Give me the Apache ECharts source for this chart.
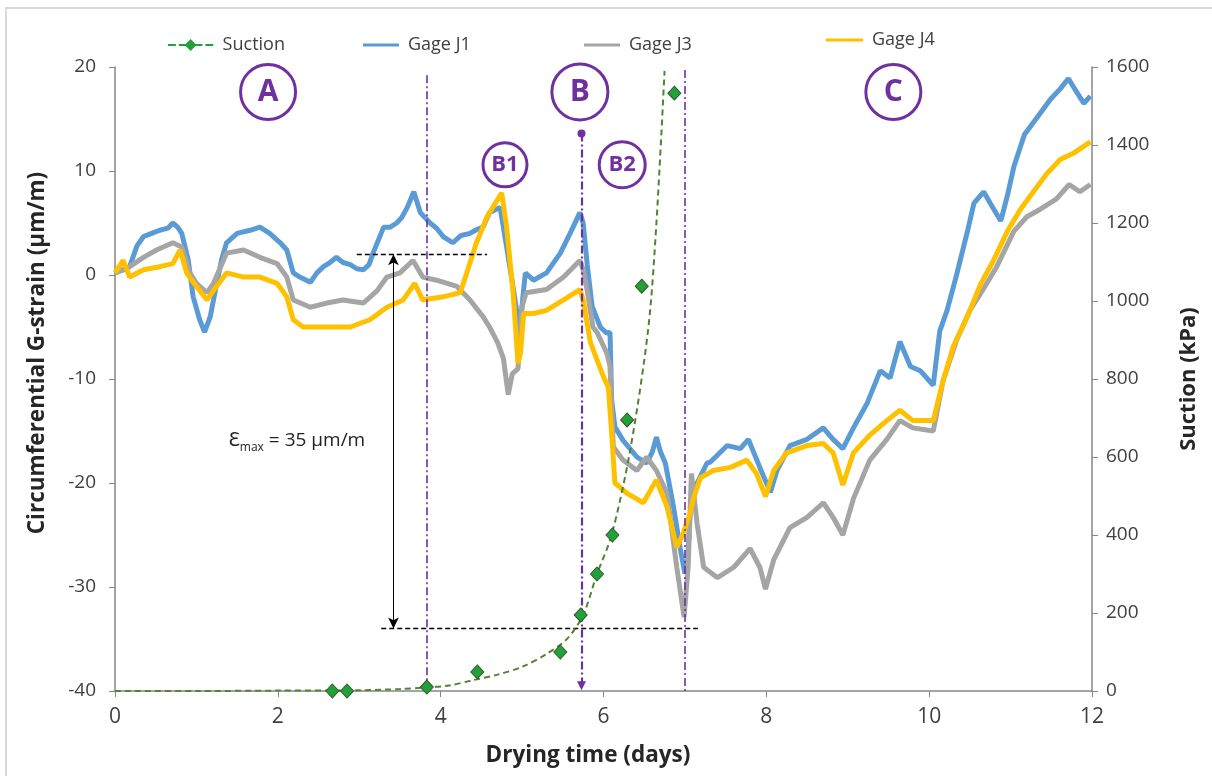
<!DOCTYPE html>
<html><head><meta charset="utf-8">
<script src="https://cdn.jsdelivr.net/npm/echarts@6/dist/echarts.min.js"></script>
<style>html,body{margin:0;padding:0;background:#fff}#c{width:1212px;height:776px}</style>
</head><body><div id="c"></div>
<script>
// ---- data ----
const gageJ1 = [[0,0.2],[0.1,0.5],[0.18,0.8],[0.27,2.8],[0.35,3.7],[0.45,4.0],[0.55,4.3],[0.65,4.5],[0.71,5.0],[0.77,4.6],[0.82,4.0],[0.9,1.4],[0.96,-2.1],[1.04,-4.3],[1.1,-5.5],[1.17,-4.0],[1.25,-0.8],[1.31,1.5],[1.37,3.1],[1.5,4.0],[1.66,4.3],[1.78,4.6],[1.9,4.0],[2.03,3.1],[2.11,2.4],[2.19,0.2],[2.27,-0.2],[2.4,-0.7],[2.48,0.2],[2.56,0.8],[2.64,1.2],[2.72,1.7],[2.8,1.2],[2.89,1.0],[2.97,0.6],[3.05,0.5],[3.12,1.0],[3.17,2.1],[3.3,4.6],[3.38,4.6],[3.46,5.0],[3.52,5.5],[3.59,6.5],[3.67,8.0],[3.75,6.0],[3.87,5.0],[3.95,4.5],[4.03,3.7],[4.15,3.1],[4.25,3.8],[4.36,4.0],[4.45,4.4],[4.52,4.6],[4.6,6.0],[4.73,6.5],[4.81,2.7],[4.9,-1.7],[4.97,-5.3],[5.04,0.2],[5.14,-0.5],[5.3,0.2],[5.47,2.1],[5.59,4.0],[5.71,6.0],[5.75,5.0],[5.8,1.0],[5.86,-3.0],[5.96,-5.0],[6.04,-5.6],[6.08,-5.5],[6.1,-12.0],[6.14,-14.6],[6.24,-15.9],[6.41,-17.5],[6.53,-18.1],[6.6,-17.0],[6.65,-15.6],[6.7,-17.0],[6.76,-18.1],[6.86,-22.3],[6.94,-26.2],[7.0,-28.7],[7.03,-28.1],[7.06,-23.3],[7.1,-21.0],[7.15,-20.0],[7.27,-18.1],[7.31,-18.0],[7.52,-16.4],[7.68,-16.7],[7.78,-15.8],[7.92,-18.5],[8.05,-20.9],[8.13,-18.8],[8.29,-16.4],[8.5,-15.8],[8.7,-14.7],[8.82,-15.8],[8.94,-16.7],[9.07,-14.7],[9.24,-12.3],[9.4,-9.2],[9.52,-9.9],[9.64,-6.4],[9.77,-8.8],[9.89,-9.2],[10.05,-10.6],[10.13,-5.4],[10.22,-3.4],[10.34,0.1],[10.47,4.2],[10.55,6.9],[10.67,8.0],[10.75,6.9],[10.88,5.2],[10.96,7.6],[11.04,10.4],[11.17,13.5],[11.33,15.2],[11.49,16.9],[11.61,17.9],[11.71,18.9],[11.81,17.6],[11.9,16.5],[11.98,17.2]];
const gageJ3 = [[0,0.2],[0.18,0.8],[0.35,1.7],[0.51,2.4],[0.71,3.1],[0.82,2.7],[0.92,0.2],[1.0,-0.8],[1.13,-1.7],[1.21,-0.8],[1.37,2.1],[1.58,2.4],[1.78,1.7],[1.99,1.1],[2.11,-0.2],[2.19,-2.4],[2.4,-3.1],[2.6,-2.7],[2.8,-2.4],[3.05,-2.7],[3.22,-1.5],[3.34,-0.2],[3.5,0.2],[3.66,1.4],[3.78,-0.2],[3.95,-0.5],[4.2,-1.1],[4.36,-2.4],[4.52,-4.0],[4.6,-5.0],[4.7,-6.5],[4.77,-8.0],[4.83,-11.5],[4.88,-9.5],[4.95,-9.0],[5.0,-3.0],[5.05,-1.7],[5.3,-1.4],[5.51,-0.2],[5.71,1.4],[5.75,0.5],[5.8,-1.5],[5.87,-5.0],[5.92,-5.5],[6.04,-7.5],[6.08,-8.8],[6.12,-16.5],[6.24,-17.8],[6.41,-18.8],[6.53,-17.5],[6.65,-18.8],[6.78,-21.0],[6.9,-28.1],[6.99,-32.9],[7.04,-28.0],[7.08,-19.1],[7.15,-23.9],[7.23,-28.1],[7.4,-29.1],[7.6,-28.1],[7.8,-26.3],[7.92,-28.1],[7.99,-30.2],[8.09,-27.4],[8.29,-24.3],[8.5,-23.3],[8.7,-21.9],[8.82,-23.3],[8.94,-25.0],[9.07,-21.5],[9.27,-17.8],[9.48,-15.8],[9.64,-14.0],[9.8,-14.7],[10.05,-15.0],[10.17,-10.2],[10.34,-6.2],[10.5,-3.4],[10.67,-1.3],[10.83,0.8],[11.04,4.2],[11.2,5.6],[11.36,6.3],[11.56,7.3],[11.72,8.7],[11.85,8.0],[11.98,8.7]];
const gageJ4 = [[0,0.2],[0.1,1.4],[0.18,-0.2],[0.35,0.5],[0.55,0.8],[0.71,1.1],[0.8,2.4],[0.88,0.2],[1.0,-1.1],[1.13,-2.4],[1.21,-1.5],[1.37,0.2],[1.58,-0.2],[1.78,-0.2],[1.99,-0.8],[2.11,-2.1],[2.19,-4.3],[2.31,-5.0],[2.6,-5.0],[2.89,-5.0],[3.13,-4.3],[3.34,-3.1],[3.54,-2.4],[3.68,-0.8],[3.78,-2.4],[4.03,-2.1],[4.24,-1.7],[4.32,0.2],[4.44,3.1],[4.57,5.6],[4.75,7.9],[4.81,4.6],[4.89,-1.7],[4.95,-8.5],[4.98,-7.5],[5.02,-3.7],[5.14,-3.7],[5.3,-3.4],[5.51,-2.4],[5.71,-1.4],[5.75,-2.4],[5.84,-6.5],[6.0,-9.8],[6.06,-10.8],[6.1,-15.2],[6.14,-20.0],[6.29,-21.0],[6.49,-21.9],[6.65,-19.7],[6.78,-22.3],[6.9,-26.2],[6.98,-24.8],[7.06,-23.0],[7.1,-21.6],[7.19,-19.5],[7.35,-18.8],[7.56,-18.5],[7.76,-17.8],[7.88,-19.1],[7.99,-21.3],[8.09,-18.8],[8.25,-17.1],[8.5,-16.4],[8.7,-16.2],[8.82,-17.1],[8.94,-20.2],[9.07,-17.1],[9.27,-15.4],[9.48,-14.0],[9.64,-13.0],[9.8,-14.0],[10.05,-14.0],[10.17,-10.2],[10.3,-6.8],[10.47,-4.0],[10.63,-0.9],[10.79,1.4],[10.96,4.2],[11.12,6.3],[11.28,8.0],[11.44,9.7],[11.61,11.1],[11.77,11.7],[11.98,12.8]];
const suctionDays = [2.67, 2.85, 3.83, 4.45, 5.47, 5.72, 5.92, 6.11, 6.29, 6.47, 6.87];
const suctionKPa  = [0, 0, 10, 49, 100, 195, 300, 400, 695, 1038, 1533];
const fitDays = [0, 1, 2, 3, 3.5, 3.8, 4.1, 4.4, 4.7, 5.0, 5.3, 5.55, 5.75, 5.92, 6.1, 6.33, 6.55, 6.65, 6.75];
const fitKPa  = [0, 0, 1, 2, 5, 9, 14, 28, 42, 62, 95, 133, 195, 300, 400, 620, 930, 1200, 1590];
const xTicks = [0, 2, 4, 6, 8, 10, 12];
const strainTicks = [-40, -30, -20, -10, 0, 10, 20];
const suctionTicks = [0, 200, 400, 600, 800, 1000, 1200, 1400, 1600];
// annotations (data units)
const phaseLines = [[3.83, 19.2], [7.0, 19.7]];
const bLine = [5.73, 13.6];
const strainRange = { top: 2, bottom: -34, arrowDay: 3.42, topFrom: 2.97, topTo: 4.57, botFrom: 3.27, botTo: 7.16 };
const circles = [
  { t: 'A', d: 1.88, v: 17.6, s: 55, f: 30 },
  { t: 'B', d: 5.71, v: 17.6, s: 56, f: 30 },
  { t: 'C', d: 9.56, v: 17.6, s: 55, f: 30 },
  { t: 'B1', d: 4.79, v: 10.6, s: 44, f: 22 },
  { t: 'B2', d: 6.23, v: 10.6, s: 46, f: 22 }
];

const PURPLE = '#7030A0';
const AX = '#868686';
const TXT = '#404040';
const SANS = "'Open Sans', 'Noto Sans', sans-serif";
const NARROW = "'Liberation Sans Narrow', 'Open Sans', sans-serif";

const chart = echarts.init(document.getElementById('c'), null, { renderer: 'canvas' });
const dashDot = [8, 3, 2, 3];
const legendText = { fontSize: 18, color: TXT, fontFamily: SANS, padding: [0, 0, 0, 4] };

const option = {
  animation: false,
  backgroundColor: '#fff',
  graphic: [{ type: 'rect', shape: { x: 6, y: 8, width: 1260, height: 820 }, style: { fill: 'none', stroke: '#d9d9d9', lineWidth: 2 }, silent: true }],
  grid: { left: 115, right: 120, top: 67, bottom: 85, containLabel: false },
  legend: [
    { data: ['Suction'], left: 163, top: 31, itemWidth: 46, itemHeight: 12,
      icon: 'path://M0,5.2h8v1.8h-8z M11,5.2h7v1.8h-7z M23,0 L29,6.1 L23,12.2 L17,6.1 Z M28,5.2h7v1.8h-7z M38,5.2h8v1.8h-8z',
      itemStyle: { borderWidth: 0 },
      textStyle: legendText, selectedMode: false },
    { data: ['Gage J1'], left: 358, top: 31, itemWidth: 36, itemHeight: 3, icon: 'rect',
      textStyle: legendText, selectedMode: false },
    { data: ['Gage J3'], left: 579, top: 31, itemWidth: 36, itemHeight: 3, icon: 'rect',
      textStyle: legendText, selectedMode: false },
    { data: ['Gage J4'], left: 821, top: 26, itemWidth: 37, itemHeight: 3, icon: 'rect',
      textStyle: legendText, selectedMode: false }
  ],
  xAxis: {
    type: 'value', min: xTicks[0], max: xTicks[xTicks.length - 1], interval: 2,
    name: 'Drying time (days)', nameLocation: 'middle', nameGap: 53,
    nameTextStyle: { fontSize: 22.5, fontWeight: 'bold', color: '#262626', fontFamily: SANS, padding: [0, 31, 0, 0] },
    axisLine: { show: true, onZero: false, lineStyle: { color: AX, width: 1.5 } },
    axisTick: { show: true, length: 6, lineStyle: { color: AX } },
    axisLabel: { fontSize: 21, color: TXT, fontFamily: NARROW, margin: 16 },
    splitLine: { show: false }
  },
  yAxis: [
    { type: 'value', min: strainTicks[0], max: strainTicks[strainTicks.length - 1], interval: 10,
      name: 'Circumferential G-strain (µm/m)', nameLocation: 'middle', nameGap: 66, nameRotate: 90,
      nameTextStyle: { fontSize: 22.5, fontWeight: 'bold', color: '#262626', fontFamily: SANS, padding: [0, 0, 0, 52] },
      axisLine: { show: true, onZero: false, lineStyle: { color: AX, width: 1.5 } },
      axisTick: { show: true, length: 6, lineStyle: { color: AX } },
      axisLabel: { fontSize: 19, color: TXT, fontFamily: SANS, margin: 19 },
      splitLine: { show: false } },
    { type: 'value', min: suctionTicks[0], max: suctionTicks[suctionTicks.length - 1], interval: 200,
      name: 'Suction (kPa)', nameLocation: 'middle', nameGap: 86, nameRotate: 90,
      nameTextStyle: { fontSize: 22, fontWeight: 'bold', color: '#262626', fontFamily: SANS },
      axisLine: { show: true, onZero: false, lineStyle: { color: AX, width: 1.5 } },
      axisTick: { show: true, length: 6, lineStyle: { color: AX } },
      axisLabel: { fontSize: 19, color: TXT, fontFamily: SANS, margin: 14, formatter: v => String(v) },
      splitLine: { show: false } }
  ],
  series: [
    { name: 'Gage J1', type: 'line', data: gageJ1, showSymbol: false, symbol: 'none', z: 2,
      lineStyle: { color: '#5B9BD5', width: 5 }, itemStyle: { color: '#5B9BD5' } },
    { name: 'Gage J3', type: 'line', data: gageJ3, showSymbol: false, symbol: 'none', z: 3,
      lineStyle: { color: '#A5A5A5', width: 5 }, itemStyle: { color: '#A5A5A5' } },
    { name: 'Gage J4', type: 'line', data: gageJ4, showSymbol: false, symbol: 'none', z: 4,
      lineStyle: { color: '#FFC000', width: 5 }, itemStyle: { color: '#FFC000' } },
    { name: 'annotations', type: 'line', data: [], z: 6, silent: true,
      markLine: {
        silent: true, symbol: 'none', label: { show: false }, animation: false,
        emphasis: { disabled: true },
        data: [
          ...phaseLines.map(p => [
            { coord: [p[0], p[1]], symbol: 'none', lineStyle: { color: PURPLE, width: 1.6, type: dashDot } },
            { coord: [p[0], strainTicks[0]], symbol: 'none' }]),
          [ { coord: [bLine[0], bLine[1]], symbol: 'circle', symbolSize: 8, lineStyle: { color: PURPLE, width: 2.2, type: dashDot }, itemStyle: { color: PURPLE } },
            { coord: [bLine[0], strainTicks[0] + 0.5], symbol: 'triangle', symbolSize: [9, 9], itemStyle: { color: PURPLE } } ],
          [ { coord: [strainRange.topFrom, strainRange.top], symbol: 'none', lineStyle: { color: '#000', width: 1.3, type: [5, 3] } },
            { coord: [strainRange.topTo, strainRange.top], symbol: 'none' } ],
          [ { coord: [strainRange.botFrom, strainRange.bottom], symbol: 'none', lineStyle: { color: '#000', width: 1.3, type: [5, 3] } },
            { coord: [strainRange.botTo, strainRange.bottom], symbol: 'none' } ],
          [ { coord: [strainRange.arrowDay, strainRange.top], symbol: 'arrow', symbolSize: [8, 11], lineStyle: { color: '#000', width: 1, type: 'solid' }, itemStyle: { color: '#000' } },
            { coord: [strainRange.arrowDay, strainRange.bottom], symbol: 'arrow', symbolSize: [8, 11], itemStyle: { color: '#000' } } ]
        ]
      },
      markPoint: {
        silent: true, animation: false,
        data: [
          ...circles.map(c => ({ name: c.t, coord: [c.d, c.v], symbol: 'circle', symbolSize: c.s,
            itemStyle: { color: '#fff', borderColor: PURPLE, borderWidth: 3 },
            label: { show: true, position: 'inside', formatter: c.t, color: PURPLE, fontSize: c.f, fontWeight: 'bold', fontFamily: SANS } })),
          { name: 'emax', coord: [1.39, -15.9], symbol: 'rect', symbolSize: [1, 1],
            itemStyle: { color: 'rgba(0,0,0,0)' },
            label: { show: true, position: 'right', distance: 0, formatter: '{a|Ɛ}{s|max}{a| = 35 µm/m}',
              rich: { a: { fontSize: 19, color: '#222', fontFamily: SANS, lineHeight: 26 },
                      s: { fontSize: 12, color: '#222', fontFamily: SANS, lineHeight: 12, verticalAlign: 'bottom' } } } }
        ]
      }
    },
    { name: 'Suction fit', type: 'line', yAxisIndex: 1, smooth: 0.3, showSymbol: false, symbol: 'none', z: 7,
      data: fitDays.map((d, i) => [d, fitKPa[i]]),
      lineStyle: { color: '#548235', width: 2, type: [6, 4] } },
    { name: 'Suction', type: 'scatter', yAxisIndex: 1, z: 8, symbol: 'diamond', symbolSize: [13, 14],
      data: suctionDays.map((d, i) => [d, suctionKPa[i]]),
      itemStyle: { color: '#22A03C', borderColor: '#2F5A22', borderWidth: 1, opacity: 1 } }
  ]
};
chart.setOption(option);
</script>
</body></html>
